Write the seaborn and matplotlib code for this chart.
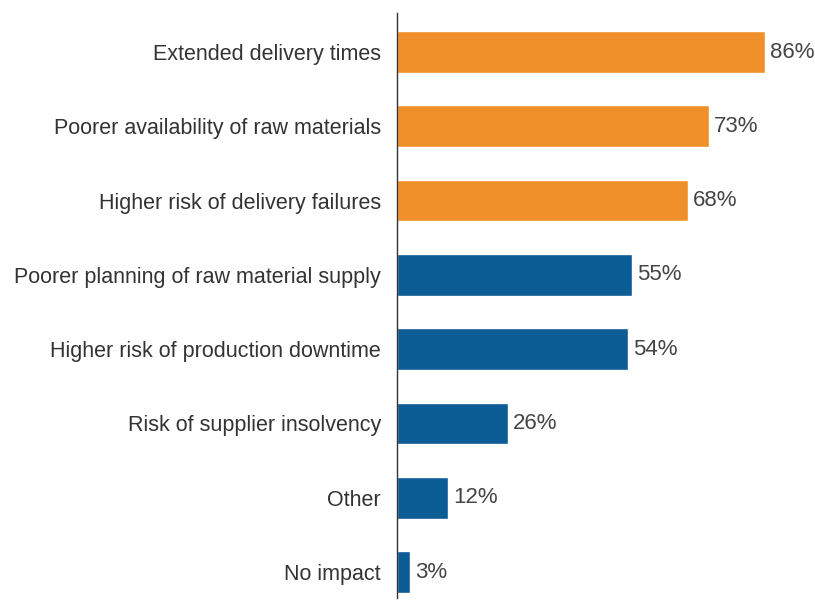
import matplotlib
matplotlib.use("Agg")
import matplotlib.pyplot as plt
import seaborn as sns
import pandas as pd

categories = [
    "Extended delivery times",
    "Poorer availability of raw materials",
    "Higher risk of delivery failures",
    "Poorer planning of raw material supply",
    "Higher risk of production downtime",
    "Risk of supplier insolvency",
    "Other",
    "No impact",
]
values = [86, 73, 68, 55, 54, 26, 12, 3]
groups = ["top", "top", "top", "rest", "rest", "rest", "rest", "rest"]

palette = {"top": "#F0902A", "rest": "#0C5C96"}

df = pd.DataFrame({"category": categories, "value": values, "group": groups})

sns.set_theme(style="white")
plt.rcParams["font.family"] = ["Liberation Sans", "DejaVu Sans"]

fig = plt.figure(figsize=(8.15, 6.01), dpi=100)
ax = fig.add_axes([397 / 815, 3 / 601, 1 - 397 / 815, 585 / 601])

sns.barplot(data=df, x="value", y="category", hue="group", palette=palette,
            dodge=False, legend=False, width=0.56, ax=ax, saturation=1)

for cont in ax.containers:
    ax.bar_label(cont, labels=[f"{v:.0f}%" for v in cont.datavalues],
                 padding=3.5, fontsize=16, color="#444444")

ax.set_xlim(0, 97.7)
ax.set_ylim(7.35, -0.525)
ax.set_xlabel("")
ax.set_ylabel("")
ax.set_xticks([])
ax.tick_params(axis="y", length=0, pad=11.5, labelsize=15.5, labelcolor="#333333")
for side in ["top", "right", "bottom"]:
    ax.spines[side].set_visible(False)
ax.spines["left"].set_color("#333333")
ax.spines["left"].set_linewidth(1.0)

fig.savefig("out.png", dpi=100)
